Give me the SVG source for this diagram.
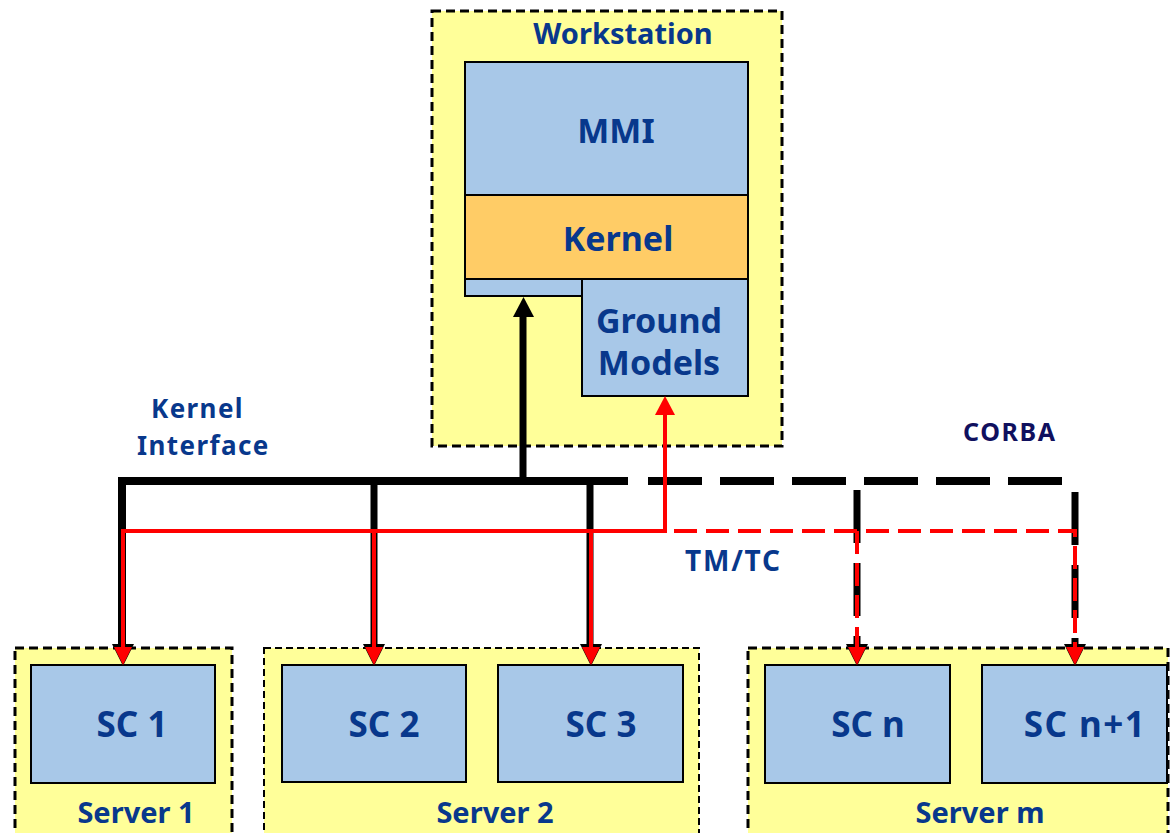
<svg xmlns="http://www.w3.org/2000/svg" width="1171" height="833" viewBox="0 0 1171 833">
  <style>
    .host { fill: #FFFF99; stroke: #000; stroke-width: 3; stroke-dasharray: 9 5; }
    .host.thin { stroke-width: 2; stroke-dasharray: 7 4; }
    .box { fill: #A8C8E8; stroke: #000; stroke-width: 2; }
    .kern { fill: #FFCC66; stroke: #000; stroke-width: 2; }
    .t { font-family: "Noto Sans", "DejaVu Sans", sans-serif; font-weight: bold; fill: #08388C; text-anchor: middle; }
    .lbl { font-family: "Noto Sans", "DejaVu Sans", sans-serif; font-weight: bold; fill: #08388C; }
    .bus { fill: none; stroke: #000; stroke-width: 8; }
    .drop { fill: none; stroke: #000; stroke-width: 7; }
    .tm { fill: none; stroke: #FF0000; stroke-width: 4; }
    .tmd { fill: none; stroke: #FF0000; stroke-width: 4; stroke-dasharray: 23 9; }
    .bh { fill: #000; }
    .rh { fill: #FF0000; }
  </style>

  <rect width="1171" height="833" fill="#FFFFFF"/>

  <!-- Workstation -->
  <g id="workstation">
    <rect class="host" x="432" y="11" width="350" height="435"/>
    <text class="t" x="623" y="44" font-size="29">Workstation</text>
    <g id="mmi">
      <rect class="box" x="465" y="62" width="283" height="133"/>
      <text class="t" x="616" y="143" font-size="34">MMI</text>
    </g>
    <g id="kernel">
      <rect class="box" x="465" y="279" width="118" height="17"/>
      <rect class="kern" x="465" y="195" width="283" height="84"/>
      <text class="t" x="618" y="251" font-size="34">Kernel</text>
    </g>
    <g id="ground-models">
      <rect class="box" x="582" y="279" width="166" height="117"/>
      <text class="t" x="659" y="333" font-size="34">Ground</text>
      <text class="t" x="659" y="375" font-size="34">Models</text>
    </g>
  </g>

  <!-- Servers -->
  <g id="server1">
    <rect class="host" x="15" y="648" width="217" height="195"/>
    <g id="sc1">
      <rect class="box" x="31" y="665" width="184" height="118"/>
      <text class="t" x="132" y="737" font-size="35">SC 1</text>
    </g>
    <text class="t" x="136" y="823" font-size="29">Server 1</text>
  </g>

  <g id="server2">
    <rect class="host thin" x="264" y="648" width="435" height="195"/>
    <g id="sc2">
      <rect class="box" x="282" y="665" width="184" height="117"/>
      <text class="t" x="384" y="737" font-size="35">SC 2</text>
    </g>
    <g id="sc3">
      <rect class="box" x="498" y="665" width="185" height="117"/>
      <text class="t" x="601" y="737" font-size="35">SC 3</text>
    </g>
    <text class="t" x="495" y="823" font-size="29">Server 2</text>
  </g>

  <g id="serverm">
    <rect class="host" x="748" y="648" width="420" height="195"/>
    <g id="scn">
      <rect class="box" x="765" y="665" width="185" height="118"/>
      <text class="t" x="868" y="737" font-size="35">SC n</text>
    </g>
    <g id="scn1">
      <rect class="box" x="982" y="665" width="185" height="118"/>
      <text class="t" x="1085" y="737" font-size="35" letter-spacing="1.5">SC n+1</text>
    </g>
    <text class="t" x="980" y="823" font-size="29">Server m</text>
  </g>

  <!-- Labels -->
  <g id="labels">
    <text class="lbl" x="151" y="418" font-size="26" letter-spacing="1.4">Kernel</text>
    <text class="lbl" x="137" y="455" font-size="26" letter-spacing="1.4">Interface</text>
    <text class="lbl" x="963" y="441" font-size="25" letter-spacing="1.6" style="fill:#10105E">CORBA</text>
    <text class="lbl" x="685" y="571" font-size="28" letter-spacing="1.8">TM/TC</text>
  </g>

  <!-- Connectors -->
  <g id="connectors">
    <!-- CORBA bus: solid part, then dashed continuation -->
    <path class="bus" d="M122 648 V481 H628"/>
    <path class="bus" d="M648 481 H1066" stroke-dasharray="54 18"/>
    <!-- bus drops to servers -->
    <path class="drop" d="M374 481 V645"/>
    <path class="drop" d="M590 481 V645"/>
    <path class="drop" d="M857 490 V645" stroke-dasharray="53 20"/>
    <path class="drop" d="M1075 492 V645" stroke-dasharray="53 20"/>
    <!-- bus up to the kernel -->
    <path class="drop" d="M523 481 V315" stroke-width="8"/>
    <polygon class="bh" points="513,317 534,317 523.5,297"/>
    <!-- black heads under the red ones -->
    <polygon class="bh" points="112,644 134,644 123,666"/>
    <polygon class="bh" points="363,644 385,644 374,666"/>
    <polygon class="bh" points="580,644 602,644 591,666"/>
    <polygon class="bh" points="846,644 868,644 857,666"/>
    <polygon class="bh" points="1064,644 1086,644 1075,666"/>

    <!-- TM/TC lines -->
    <path class="tm" d="M123 648 V531 H665 V414"/>
    <path class="tm" d="M374 531 V648"/>
    <path class="tm" d="M591 531 V648"/>
    <path class="tmd" d="M674 531 H1075 V648"/>
    <path class="tmd" d="M857 531 V648"/>
    <polygon class="rh" points="655,415 675,415 665,396"/>
    <polygon class="rh" points="114,647 132,647 123,665"/>
    <polygon class="rh" points="365,647 383,647 374,665"/>
    <polygon class="rh" points="582,647 600,647 591,665"/>
    <polygon class="rh" points="848,647 866,647 857,665"/>
    <polygon class="rh" points="1066,647 1084,647 1075,665"/>
  </g>
</svg>
